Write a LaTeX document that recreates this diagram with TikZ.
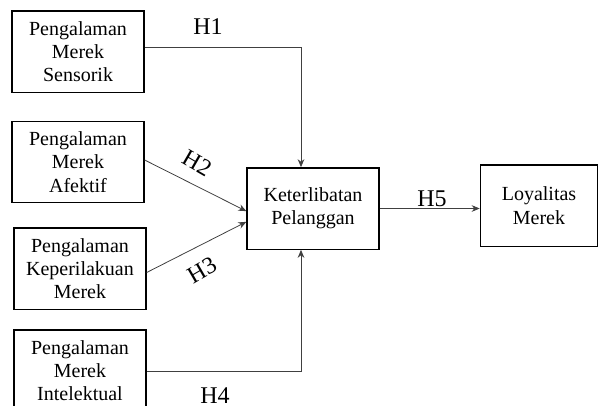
\documentclass[tikz,border=0pt]{standalone}
\usepackage{fontspec}
\setmainfont{Liberation Serif}
\usetikzlibrary{arrows.meta,positioning,calc}
\tikzset{
  kotak/.style={
    rectangle, draw, line width=1pt, align=center,
    font=\fontsize{15}{17.5}\selectfont,
    minimum width=99pt, minimum height=61pt, inner sep=2pt},
  panah/.style={-{Stealth[length=6pt,width=5pt]}, line width=0.6pt, black!75},
  hip/.style={font=\fontsize{18}{20}\selectfont, inner sep=1pt}
}

\begin{document}
\begin{tikzpicture}[x=0.75pt,y=-0.75pt]
\useasboundingbox (0,0) rectangle (600,405);

\node[kotak] (sensorik) at (78,51.5) {Pengalaman\\Merek\\Sensorik};
\node[kotak] (afektif)  at (78,162)  {Pengalaman\\Merek\\Afektif};
\node[kotak] (perilaku) at (80,268.5) {Pengalaman\\Keperilakuan\\Merek};
\node[kotak] (intelek)  at (80,370.5) {Pengalaman\\Merek\\Intelektual};

\node[kotak] (terlibat) at (313,208.5) {Keterlibatan\\Pelanggan};
\node[kotak, minimum width=88pt] (loyal) at (539,205.5) {Loyalitas\\Merek};

\coordinate (atas)  at ([xshift=-9pt]terlibat.north);
\coordinate (bawah) at ([xshift=-9pt]terlibat.south);

\draw[panah] ([yshift=3pt]sensorik.east) -| (atas);
\draw[panah] ([yshift=1.5pt]afektif.east) -- ([yshift=-2pt]terlibat.west);
\draw[panah] ([yshift=-3pt]perilaku.east) -- ([yshift=-10pt]terlibat.west);
\draw[panah] ([yshift=-1pt]intelek.east) -| (bawah);
\draw[panah] (terlibat.east) -- (terlibat.east -| loyal.west);

\node[hip] (h1) at (208,27)  {H1};
\node[hip, rotate=-30] (h2) at (197,163) {H2};
\node[hip, rotate=30]  (h3) at (202,270) {H3};
\node[hip] (h4) at (215,396) {H4};
\node[hip] (h5) at (432,199) {H5};

\end{tikzpicture}
\end{document}
